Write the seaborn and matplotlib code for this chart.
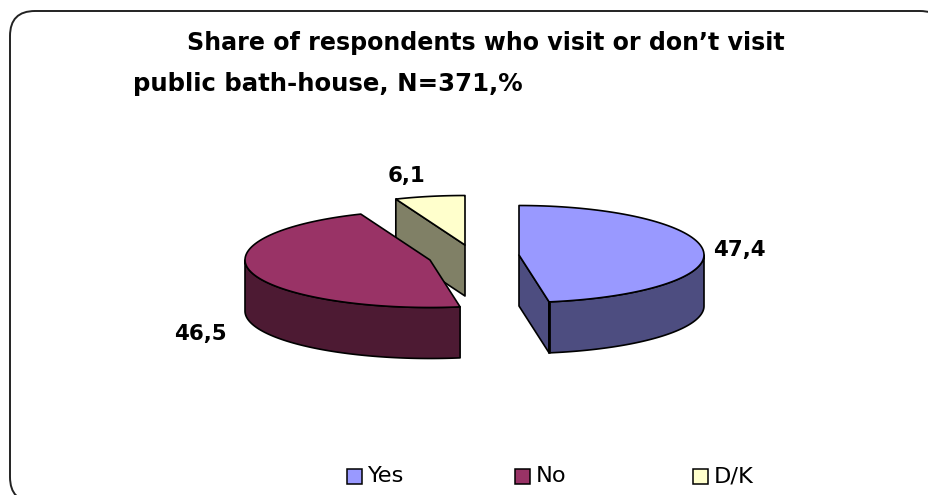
import numpy as np
import matplotlib
matplotlib.use("Agg")
import matplotlib.pyplot as plt
from matplotlib.patches import FancyBboxPatch, Polygon, Rectangle
import seaborn as sns

# Survey results
categories = ["Yes", "No", "D/K"]
shares = [47.4, 46.5, 6.1]
title_lines = ["Share of respondents who visit or don\u2019t visit",
               "public bath-house, N=371,%"]

top_colors = sns.color_palette(["#9999FF", "#993366", "#FFFFCC"])
wall_colors = sns.color_palette(["#4D4D80", "#4D1A33", "#808066"])

sns.set_theme(style="white")
plt.rcParams["font.family"] = ["DejaVu Sans"]

fig = plt.figure(figsize=(9.29, 4.95), dpi=100)
ax = fig.add_axes([0, 0, 1, 1])
ax.set_xlim(0, 929)
ax.set_ylim(495, 0)
ax.axis("off")

# Rounded outer frame, running past the right and bottom of the canvas
ax.add_patch(FancyBboxPatch((35, 36), 885, 441,
                            boxstyle="round,pad=25,rounding_size=25",
                            fc="white", ec="#222222", lw=1.4, clip_on=True))

# Exploded slice layout: apex position of each slice
apex = {"Yes": (519, 255), "No": (430, 260), "D/K": (465, 245)}
RX, RY_BACK, RY_FRONT, DEPTH = 185, 49.5, 47.5, 51


def rim(center, start, stop, n=90):
    """Points on the elliptical rim between two clockwise angles from 12 o'clock."""
    t = np.radians(np.linspace(start, stop, n))
    ry = np.where(np.cos(t) > 0, RY_BACK, RY_FRONT)
    return np.column_stack([center[0] + RX * np.sin(t), center[1] - ry * np.cos(t)])


edges = np.concatenate([[0], np.cumsum(shares)]) * 360 / sum(shares)
spans = {c: (edges[i], edges[i + 1]) for i, c in enumerate(categories)}
down = np.array([0, DEPTH])
line = dict(ec="black", lw=1.2, joinstyle="round")


def draw_slice(i):
    name = categories[i]
    c = np.array(apex[name], dtype=float)
    a0, a1 = spans[name]

    # Cut faces turned towards the viewer
    if name == "Yes":
        p = rim(c, a1, a1, 1)[0]
        ax.add_patch(Polygon([c, p, p + down, c + down], fc=wall_colors[i], **line))
    if name == "D/K":
        p = rim(c, a0, a0, 1)[0]
        ax.add_patch(Polygon([p, c, c + down, p + down], fc=wall_colors[i], **line))

    # Outer wall along the front half of the rim
    lo, hi = max(a0, 90), min(a1, 270)
    if lo < hi:
        arc = rim(c, lo, hi)
        ax.add_patch(Polygon(np.vstack([arc, (arc + down)[::-1]]),
                             fc=wall_colors[i], **line))

    # Top surface
    ax.add_patch(Polygon(np.vstack([[c], rim(c, a0, a1)]), fc=top_colors[i], **line))


for i in (2, 1, 0):
    draw_slice(i)

# Heavier corner where the Yes cut face meets its outer wall
corner = rim(np.array(apex["Yes"], dtype=float), spans["Yes"][1], spans["Yes"][1], 1)[0]
ax.plot([corner[0], corner[0]], [corner[1], corner[1] + DEPTH], color="black", lw=2,
        solid_capstyle="butt")

# Value labels
label_pos = {"Yes": (739.5, 250), "No": (200, 334), "D/K": (407, 176)}
for name, v in zip(categories, shares):
    ax.text(*label_pos[name], f"{v:.1f}".replace(".", ","), ha="center", va="center",
            fontsize=15.4, fontweight="bold", color="black")

# Two-line heading
ax.text(486, 43, title_lines[0], ha="center", va="center",
        fontsize=17.1, fontweight="bold", color="black")
ax.text(133, 84, title_lines[1], ha="left", va="center",
        fontsize=17.6, fontweight="bold", color="black")

# Legend row with unevenly spaced entries
legend_x = {"Yes": 347, "No": 515, "D/K": 693}
for i, name in enumerate(categories):
    x = legend_x[name]
    ax.add_patch(Rectangle((x, 469), 15, 15, fc=top_colors[i], ec="black", lw=1.1))
    ax.text(x + 20.5, 476, name, ha="left", va="center", fontsize=16.2, color="black")

fig.savefig("out.png", dpi=100, facecolor="white")
